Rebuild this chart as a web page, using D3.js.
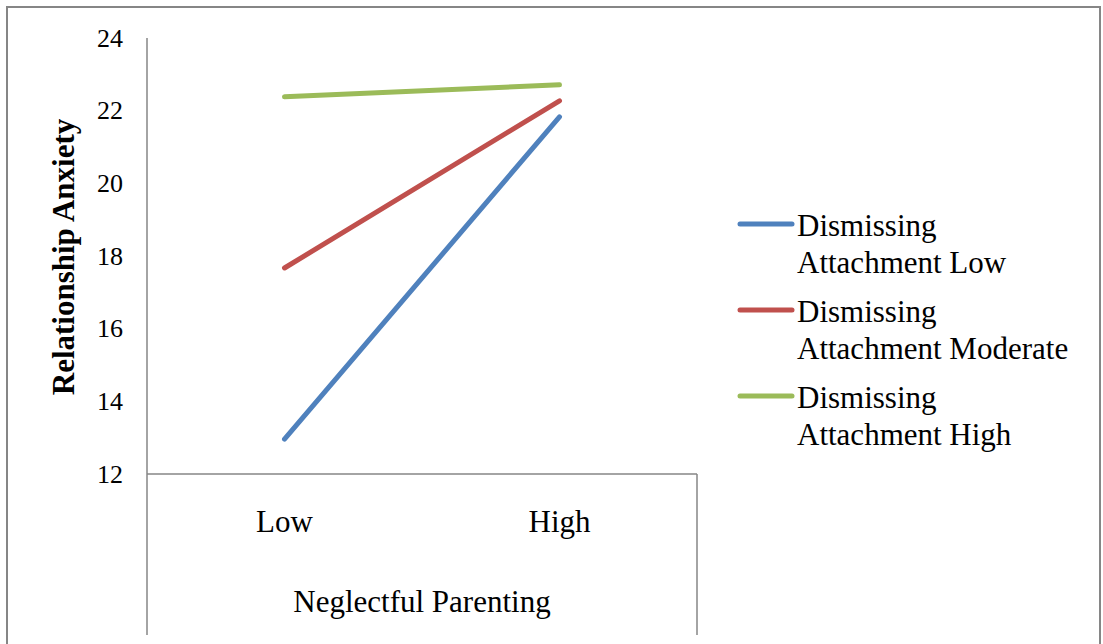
<!DOCTYPE html>
<html><head><meta charset="utf-8">
<script src="https://cdn.jsdelivr.net/npm/d3@7"></script>
<style>body{margin:0;background:#fff}svg{display:block}svg text{font-family:"Liberation Serif","Times New Roman",serif;fill:#000}</style>
</head><body>
<script>
const categories = ["Low", "High"];
const seriesNames = ["Dismissing Attachment Low", "Dismissing Attachment Moderate", "Dismissing Attachment High"];
const legendLines = [["Dismissing", "Attachment Low"], ["Dismissing", "Attachment Moderate"], ["Dismissing", "Attachment High"]];
const valuesLow = [12.96, 21.83];
const valuesModerate = [17.67, 22.27];
const valuesHigh = [22.38, 22.71];
const yTicks = [12, 14, 16, 18, 20, 22, 24];
const colors = ["#4F81BD", "#C0504D", "#9BBB59"];
const series = [valuesLow, valuesModerate, valuesHigh];

const W = 1103, H = 644;
const svg = d3.select("body").append("svg").attr("width", W).attr("height", H);

// outer border
svg.append("rect").attr("x", 7).attr("y", 7).attr("width", 1093).attr("height", 660)
  .attr("fill", "none").attr("stroke", "#868686").attr("stroke-width", 2);

const x0 = 147, x1 = 697, yTop = 38, yBot = 474;
const x = d3.scaleBand().domain(categories).range([x0, x1]);
const y = d3.scaleLinear().domain([12, 24]).range([yBot, yTop]);

// y axis
const yAxis = svg.append("g").attr("transform", `translate(${x0},0)`)
  .call(d3.axisLeft(y).tickValues(yTicks).tickSize(0).tickPadding(24));
yAxis.select(".domain").remove();
yAxis.selectAll("text").style("font-size", "26px");
svg.append("line").attr("x1", x0).attr("x2", x0).attr("y1", yTop).attr("y2", 635)
  .attr("stroke", "#868686").attr("stroke-width", 1.5);

// x axis
svg.append("line").attr("x1", x0).attr("x2", x1).attr("y1", yBot).attr("y2", yBot)
  .attr("stroke", "#868686").attr("stroke-width", 1.5);
svg.append("line").attr("x1", x1).attr("x2", x1).attr("y1", yBot).attr("y2", 635)
  .attr("stroke", "#868686").attr("stroke-width", 1.5);
const xAxis = svg.append("g").attr("transform", `translate(0,${yBot})`)
  .call(d3.axisBottom(x).tickSize(0).tickPadding(36));
xAxis.select(".domain").remove();
xAxis.selectAll("text").style("font-size", "31px");

svg.append("text").attr("x", (x0 + x1) / 2).attr("y", 612).attr("text-anchor", "middle")
  .style("font-size", "31px").text("Neglectful Parenting");

svg.append("text").attr("transform", `translate(74,257) rotate(-90)`)
  .attr("text-anchor", "middle").style("font-size", "31px")
  .style("font-weight", "bold").text("Relationship Anxiety");

// lines
const line = d3.line().x((d, i) => x(categories[i]) + x.bandwidth() / 2).y(d => y(d));
series.forEach((s, k) => {
  svg.append("path").datum(s).attr("d", line).attr("fill", "none")
    .attr("stroke", colors[k]).attr("stroke-width", 5).attr("stroke-linecap", "round");
});

// legend
legendLines.forEach((lines, k) => {
  const ly = 224 + k * 86;
  svg.append("line").attr("x1", 740).attr("x2", 792).attr("y1", ly).attr("y2", ly)
    .attr("stroke", colors[k]).attr("stroke-width", 5).attr("stroke-linecap", "round");
  lines.forEach((t, j) => {
    svg.append("text").attr("x", 797).attr("y", ly + 12 + j * 37)
      .style("font-size", "31px").text(t);
  });
});
</script>
</body></html>
